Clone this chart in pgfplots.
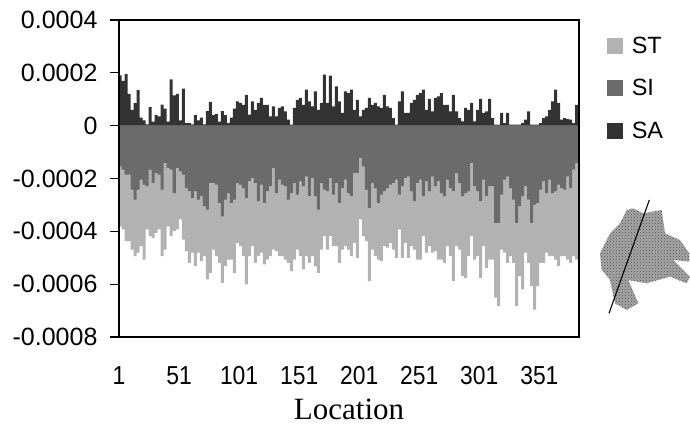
\documentclass[border=0pt]{standalone}
\usepackage{pgfplots}
\usepackage{pgfplotstable}
\pgfplotsset{compat=1.18}
\usetikzlibrary{patterns}
\usepackage{fontspec}
\setmainfont{Liberation Sans}
\newfontfamily\serifloc{Liberation Serif}
\newfontfamily\tallsans[FakeStretch=0.88]{Liberation Sans}
\definecolor{cST}{gray}{0.70}
\definecolor{cSI}{gray}{0.42}
\definecolor{cSA}{gray}{0.20}
\pgfplotstableread{
x sa si st
2 0.000190 -0.000154 -0.000381
4.5 0.000170 -0.000166 -0.000393
7 0.000195 -0.000185 -0.000437
9.5 0.000120 -0.000185 -0.000437
12 0.000060 -0.000242 -0.000469
14.5 0.000085 -0.000280 -0.000494
17 0.000135 -0.000242 -0.000481
19.5 0.000030 -0.000204 -0.000456
22 0.000020 -0.000223 -0.000507
24.5 0.000005 -0.000229 -0.000393
27 0.000070 -0.000166 -0.000418
29.5 0.000015 -0.000217 -0.000425
32 0.000040 -0.000179 -0.000406
34.5 0.000035 -0.000185 -0.000393
37 0.000080 -0.000242 -0.000494
39.5 0.000065 -0.000141 -0.000469
42 0.000015 -0.000160 -0.000381
44.5 0.000175 -0.000166 -0.000418
47 0.000115 -0.000255 -0.000399
49.5 0.000120 -0.000160 -0.000393
52 0.000020 -0.000173 -0.000355
54.5 0.000140 -0.000185 -0.000431
57 0.000010 -0.000236 -0.000475
59.5 0.000010 -0.000248 -0.000519
62 0.000005 -0.000273 -0.000481
64.5 0.000040 -0.000248 -0.000532
67 0.000020 -0.000280 -0.000481
69.5 0.000030 -0.000267 -0.000513
72 0.000005 -0.000305 -0.000494
74.5 0.000055 -0.000318 -0.000582
77 0.000090 -0.000217 -0.000557
79.5 0.000040 -0.000217 -0.000469
82 0.000045 -0.000223 -0.000494
84.5 0.000015 -0.000292 -0.000519
87 0.000055 -0.000343 -0.000595
89.5 0.000040 -0.000280 -0.000532
92 0.000010 -0.000255 -0.000507
94.5 0.000030 -0.000292 -0.000507
97 0.000065 -0.000280 -0.000557
99.5 0.000092 -0.000217 -0.000444
102 0.000086 -0.000223 -0.000456
104.5 0.000079 -0.000236 -0.000494
107 0.000117 -0.000273 -0.000601
109.5 0.000042 -0.000210 -0.000494
112 0.000092 -0.000198 -0.000456
114.5 0.000060 -0.000217 -0.000519
117 0.000086 -0.000286 -0.000494
119.5 0.000105 -0.000223 -0.000481
122 0.000079 -0.000292 -0.000525
124.5 0.000079 -0.000248 -0.000507
127 0.000035 -0.000229 -0.000494
129.5 0.000073 -0.000160 -0.000469
132 0.000035 -0.000255 -0.000475
134.5 0.000067 -0.000204 -0.000494
137 0.000073 -0.000223 -0.000494
139.5 0.000054 -0.000229 -0.000507
142 0.000023 -0.000280 -0.000519
144.5 0.000004 -0.000255 -0.000551
147 0.000067 -0.000217 -0.000507
149.5 0.000098 -0.000261 -0.000469
152 0.000105 -0.000210 -0.000494
154.5 0.000079 -0.000229 -0.000544
157 0.000136 -0.000192 -0.000494
159.5 0.000092 -0.000267 -0.000519
162 0.000073 -0.000198 -0.000494
164.5 0.000130 -0.000267 -0.000532
167 0.000060 -0.000318 -0.000557
169.5 0.000086 -0.000217 -0.000469
172 0.000193 -0.000242 -0.000418
174.5 0.000086 -0.000248 -0.000469
177 0.000189 -0.000198 -0.000418
179.5 0.000073 -0.000261 -0.000456
182 0.000149 -0.000217 -0.000456
184.5 0.000092 -0.000292 -0.000519
187 0.000048 -0.000236 -0.000469
189.5 0.000130 -0.000204 -0.000456
192 0.000123 -0.000255 -0.000469
194.5 0.000136 -0.000267 -0.000494
197 0.000060 -0.000179 -0.000444
199.5 0.000098 -0.000179 -0.000500
202 0.000035 -0.000122 -0.000355
204.5 0.000060 -0.000154 -0.000418
207 0.000067 -0.000242 -0.000437
209.5 0.000105 -0.000311 -0.000588
212 0.000079 -0.000217 -0.000469
214.5 0.000086 -0.000236 -0.000494
217 0.000073 -0.000292 -0.000507
219.5 0.000067 -0.000261 -0.000513
222 0.000117 -0.000248 -0.000456
224.5 0.000073 -0.000236 -0.000462
227 0.000067 -0.000223 -0.000444
229.5 0.000029 -0.000217 -0.000469
232 0.000004 -0.000204 -0.000500
234.5 0.000092 -0.000261 -0.000393
237 0.000130 -0.000229 -0.000500
239.5 0.000048 -0.000198 -0.000444
242 0.000048 -0.000192 -0.000500
244.5 0.000086 -0.000248 -0.000456
247 0.000098 -0.000286 -0.000469
249.5 0.000117 -0.000217 -0.000507
252 0.000123 -0.000204 -0.000507
254.5 0.000136 -0.000267 -0.000418
257 0.000060 -0.000210 -0.000481
259.5 0.000101 -0.000248 -0.000456
262 0.000054 -0.000192 -0.000481
264.5 0.000105 -0.000229 -0.000475
267 0.000111 -0.000210 -0.000507
269.5 0.000123 -0.000255 -0.000507
272 0.000079 -0.000267 -0.000519
274.5 0.000079 -0.000204 -0.000456
277 0.000054 -0.000236 -0.000494
279.5 0.000117 -0.000248 -0.000588
282 0.000054 -0.000179 -0.000456
284.5 0.000029 -0.000217 -0.000469
287 0.000016 -0.000267 -0.000570
289.5 0.000067 -0.000255 -0.000576
292 0.000060 -0.000248 -0.000494
294.5 0.000086 -0.000141 -0.000418
297 0.000016 -0.000229 -0.000507
299.5 0.000060 -0.000248 -0.000494
302 0.000101 -0.000286 -0.000576
304.5 0.000048 -0.000204 -0.000456
307 0.000054 -0.000267 -0.000538
309.5 0.000101 -0.000229 -0.000507
312 0.000029 -0.000229 -0.000507
314.5 0.000004 -0.000368 -0.000651
317 0.000004 -0.000368 -0.000683
319.5 0.000048 -0.000261 -0.000469
322 0.000010 -0.000204 -0.000481
324.5 0.000048 -0.000192 -0.000519
327 0.000004 -0.000236 -0.000494
329.5 0.000004 -0.000280 -0.000519
332 0.000004 -0.000368 -0.000683
334.5 0.000004 -0.000305 -0.000570
337 0.000010 -0.000267 -0.000620
339.5 0.000023 -0.000229 -0.000481
342 0.000054 -0.000280 -0.000519
344.5 0.000004 -0.000368 -0.000607
347 0.000004 -0.000299 -0.000696
349.5 0.000004 -0.000292 -0.000607
352 0.000010 -0.000242 -0.000519
354.5 0.000029 -0.000210 -0.000519
357 0.000035 -0.000255 -0.000481
359.5 0.000060 -0.000204 -0.000494
362 0.000092 -0.000255 -0.000494
364.5 0.000136 -0.000248 -0.000507
367 0.000086 -0.000223 -0.000532
369.5 0.000023 -0.000236 -0.000494
372 0.000029 -0.000242 -0.000494
374.5 0.000025 -0.000192 -0.000507
377 0.000023 -0.000236 -0.000519
379.5 0.000010 -0.000166 -0.000494
382 0.000079 -0.000141 -0.000507
384.5 0.000098 -0.000129 -0.000368
}\datatable
\begin{document}
\begin{tikzpicture}[x=1pt,y=1pt]
\useasboundingbox (0,0) rectangle (690,426);
\begin{axis}[
  at={(119pt,89pt)}, anchor=south west,
  scale only axis, width=460pt, height=317pt,
  xmin=1, xmax=384, ymin=-0.0008, ymax=0.0004,
  axis line style={line width=1.2pt},
  ytick={-0.0008,-0.0006,-0.0004,-0.0002,0,0.0002,0.0004},
  yticklabels={-0.0008,-0.0006,-0.0004,-0.0002,0,0.0002,0.0004},
  xtick={1,51,101,151,201,251,301,351},
  xticklabels={1,51,101,151,201,251,301,351},
  tick align=outside,
  major tick length=9pt,
  tick style={line width=1.1pt,black},
  x tick style={draw=none},
  ytick pos=left,
  scaled y ticks=false,
  yticklabel style={font=\fontsize{25}{27}\selectfont,xshift=-9pt},
  xticklabel style={font=\tallsans\fontsize{26}{28}\selectfont,yshift=-17pt},
  xlabel={\serifloc\fontsize{31}{33}\selectfont Location},
  xlabel style={at={(axis description cs:0.5,-0.228)},anchor=center},
  legend style={draw=none,fill=none,at={(rel axis cs:1.06,0.953)},anchor=north west,
    font=\fontsize{23.5}{25}\selectfont,row sep=20.5pt,inner sep=0pt},
  legend cell align=left,
  legend image code/.code={\fill[#1] (0pt,-8pt) rectangle (16pt,8pt);},
  axis on top,
]
\addplot[const plot mark mid,fill=cST,draw=none] table[x=x,y=st]{\datatable} \closedcycle;
\addlegendentry{\hspace{7pt}ST}
\addplot[const plot mark mid,fill=cSI,draw=none] table[x=x,y=si]{\datatable} \closedcycle;
\addlegendentry{\hspace{7pt}SI}
\addplot[const plot mark mid,fill=cSA,draw=none] table[x=x,y=sa]{\datatable} \closedcycle;
\addlegendentry{\hspace{7pt}SA}
\end{axis}
% small location map with its transect line
\begin{scope}[shift={(590,406)},x=0.3333pt,y=-0.3333pt]
\fill[gray!70!white] (110,570)--(130,565)--(160,580)--(215,570)--(225,640)--(270,660)--(298,700)--(298,725)--(250,720)--(300,770)--(290,790)--(240,770)--(170,790)--(115,780)--(145,850)--(110,870)--(75,850)--(60,780)--(35,750)--(30,700)--(60,640)--(90,610)--cycle;
\fill[pattern=crosshatch dots,pattern color=black!70] (110,570)--(130,565)--(160,580)--(215,570)--(225,640)--(270,660)--(298,700)--(298,725)--(250,720)--(300,770)--(290,790)--(240,770)--(170,790)--(115,780)--(145,850)--(110,870)--(75,850)--(60,780)--(35,750)--(30,700)--(60,640)--(90,610)--cycle;
\draw[black,line width=1.1pt] (178,540)--(57,880);
\end{scope}
\end{tikzpicture}
\end{document}
